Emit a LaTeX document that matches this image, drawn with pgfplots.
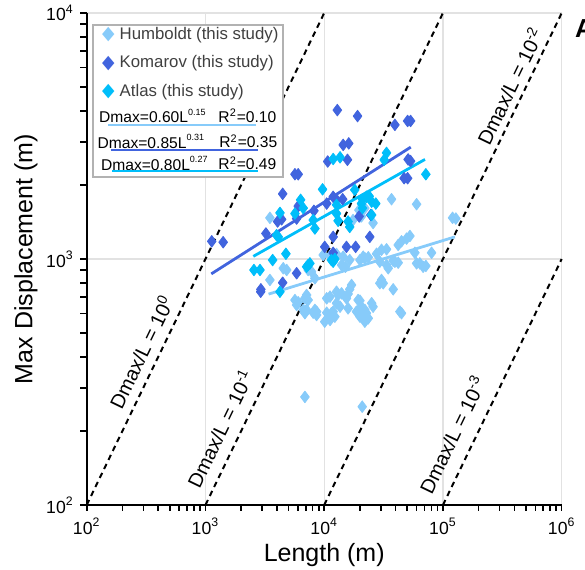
\documentclass[border=0pt]{standalone}
\usepackage{fontspec}
\setmainfont{Liberation Sans}
\newfontfamily\dejavu{DejaVu Sans}
\usepackage{pgfplots}
\pgfplotsset{compat=1.18}
\definecolor{hum}{RGB}{135,203,250}
\definecolor{kom}{RGB}{65,100,222}
\definecolor{atl}{RGB}{0,190,250}
\definecolor{gridc}{RGB}{226,226,226}
\newcommand{\sups}[1]{\raisebox{0.95ex}{\fontsize{4.5}{4.5}\selectfont #1}}
\newcommand{\lgfont}{\fontsize{8.4}{10}\selectfont}
\newcommand{\fitfont}{\fontsize{7.8}{9}\selectfont}

\begin{document}
\begin{tikzpicture}
\begin{axis}[
  scale only axis, width=237.5pt, height=246pt,
  xmode=log, ymode=log,
  xmin=100, xmax=1000000, ymin=100, ymax=10000,
  clip=false,
  axis line style={draw=none},
  xtick pos=left, ytick pos=left,
  tick align=outside,
  major tick length=3pt, minor tick length=3pt,
  every tick/.append style={black, line width=0.8pt},
  xtick={100,1000,10000,100000,1000000},
  xticklabels={10\textsuperscript{2},10\textsuperscript{3},10\textsuperscript{4},10\textsuperscript{5},10\textsuperscript{6}},
  minor xtick={200,300,400,500,600,700,800,900,2000,3000,4000,5000,6000,7000,8000,9000,
    20000,30000,40000,50000,60000,70000,80000,90000,200000,300000,400000,500000,600000,700000,800000,900000},
  ytick={100,1000,10000},
  yticklabels={10\textsuperscript{2},10\textsuperscript{3},10\textsuperscript{4}},
  minor ytick={200,300,400,500,600,700,800,900,2000,3000,4000,5000,6000,7000,8000,9000},
  xmajorgrids, ymajorgrids, major grid style={gridc, line width=0.7pt},
  ticklabel style={font=\fontsize{8.8}{10}\selectfont},
  xlabel={Length (m)}, ylabel={Max Displacement (m)},
  xlabel shift=-2.5pt, ylabel shift=-2.5pt,
  label style={font=\fontsize{12.5}{14}\selectfont},
  every axis plot/.append style={line join=round},
]
% Humboldt
\addplot[only marks, mark=diamond*, mark size=2.9pt, mark options={draw=hum, fill=hum}] coordinates {
(36900,1750) (60000,1670) (120500,1470) (128400,1460) (3490,1470) (22000,1610)
(20000,1490) (17500,1440) (25800,1400) (52700,1240) (49400,1210) (44800,1180)
(42000,1140) (30400,1090) (33500,1095) (27600,1050) (58000,1060) (80200,1060)
(63900,960) (71800,937) (38100,984) (42000,966) (9810,1038) (11200,1028)
(12700,1048) (14450,1022) (16400,990) (21300,1022) (23500,1016) (29400,975)
(7330,902) (7830,888) (8350,835) (4830,902) (30400,822) (29400,797)
(38100,753) (17000,784) (16400,753) (15900,721) (12700,736) (11200,703)
(10500,692) (5670,681) (6040,667) (25100,661) (25800,640) (20000,677)
(20600,640) (22000,621) (12700,661) (13600,640) (15400,692) (7110,621)
(8080,605) (8630,611) (10500,605) (11900,611) (12300,583) (18700,611)
(20600,583) (10100,556) (22700,602) (43400,611) (20000,990) (22000,1007)
(39400,975) (60000,960) (68100,930) (33500,945) (34600,917) (31400,797)
(13100,714) (14000,725) (15900,630) (19300,681) (44800,602) (19300,611)
(20000,583) (22000,556) (23500,574) (11500,602) (11200,565) (20900,251)
(4520,917) (5860,650) (6880,692) (7330,681) (6660,621) (6880,602)
(8350,621) (8630,592) (6880,275) (7110,714) (3490,822) (19600,1580)
(20600,1490) (14000,945) (15100,930)
};
% Komarov
\addplot[only marks, mark=diamond*, mark size=2.9pt, mark options={draw=kom, fill=kom}] coordinates {
(12900,4030) (19100,3810) (39400,3510) (50400,3640) (53400,3640) (14450,2910)
(16100,2950) (10700,2490) (15700,2530) (50900,2540) (53400,2500) (5670,2210)
(6040,2210) (47100,2130) (50400,2130) (4470,1840) (11900,1790) (12700,1740)
(14300,1750) (10500,1680) (6040,1640) (8190,1570) (4050,1420) (4380,1450)
(3230,1270) (1130,1180) (1410,1170) (19700,1490) (24700,1510) (11900,1230)
(24200,1230) (10100,1120) (15400,1120) (18400,1120) (11900,1060) (5860,875)
(4470,801) (2930,753) (2920,736) (5860,1460)
};
% Atlas
\addplot[only marks, mark=diamond*, mark size=2.9pt, mark options={draw=atl, fill=atl}] coordinates {
(13600,2590) (11900,2550) (33500,2700) (32000,2530) (71800,2210) (9690,1920)
(6330,1740) (5670,1530) (6660,1610) (4240,1540) (21000,1750) (23900,1800)
(25100,1710) (12700,1660) (8080,1440) (8350,1330) (3970,1250) (4100,1230)
(15900,1420) (16400,1350) (21000,1610) (4760,1050) (3680,990) (2560,902)
(2880,902) (7580,960) (7110,930) (12300,1000) (11900,975) (4240,736)
(18100,1910) (20600,1680) (27200,1680) (13100,1430) (12700,1530) (25100,1510)
(7330,945) (22700,1790) (11500,990)
};
% Dmax/L reference lines
\addplot[black, line width=1pt, dash pattern=on 2.8pt off 2.2pt] coordinates {(100,100) (10000,10000)};
\addplot[black, line width=1pt, dash pattern=on 2.8pt off 2.2pt] coordinates {(1000,100) (100000,10000)};
\addplot[black, line width=1pt, dash pattern=on 2.8pt off 2.2pt] coordinates {(10000,100) (1000000,10000)};
\addplot[black, line width=1pt, dash pattern=on 2.8pt off 2.2pt] coordinates {(100000,100) (1000000,1000)};
% power-law fits
\addplot[hum, line width=1.4pt] coordinates {(3400,720) (126000,1230)};
\addplot[kom, line width=1.4pt] coordinates {(1120,870) (53600,2850)};
\addplot[atl, line width=1.4pt] coordinates {(2530,1025) (70600,2540)};

% left and bottom axis lines, with outward ticks
\draw[black, line width=0.9pt] (rel axis cs:0,1) -- (rel axis cs:0,0) -- (rel axis cs:1,0);
\pgfplotsinvokeforeach{100,200,300,400,500,600,700,800,900,1000,2000,3000,4000,5000,6000,7000,8000,9000,
  10000,20000,30000,40000,50000,60000,70000,80000,90000,100000,200000,300000,400000,500000,600000,700000,800000,900000,1000000}{
  \draw[black, line width=0.8pt] (axis cs:#1,100) -- ++(0pt,-3pt);}
\pgfplotsinvokeforeach{100,200,300,400,500,600,700,800,900,1000,2000,3000,4000,5000,6000,7000,8000,9000,10000}{
  \draw[black, line width=0.9pt] (axis cs:100,#1) -- ++(-3.6pt,0pt);}

\node[rotate=64.2, font=\fontsize{10}{12}\selectfont] at (axis cs:286,419) {Dmax/L = 10\textsuperscript{0}};
\node[rotate=64.2, font=\fontsize{10}{12}\selectfont] at (axis cs:1324,205) {Dmax/L = 10\textsuperscript{-1}};
\node[rotate=64.2, font=\fontsize{10}{12}\selectfont] at (axis cs:365000,5050) {Dmax/L = 10\textsuperscript{-2}};
\node[rotate=64.2, font=\fontsize{10}{12}\selectfont] at (axis cs:119000,193) {Dmax/L = 10\textsuperscript{-3}};

% legend
\draw[gray!60, line width=1pt, fill=white] (rel axis cs:0.0139,0.9756) rectangle (rel axis cs:0.4139,0.6673);
\node[inner sep=0, text=hum, font=\dejavu\fontsize{9.5}{10}\selectfont] at (rel axis cs:0.0455,0.9553) {\scalebox{0.85}[1]{◆}};
\node[inner sep=0, text=kom, font=\dejavu\fontsize{9.5}{10}\selectfont] at (rel axis cs:0.0455,0.8978) {\scalebox{0.85}[1]{◆}};
\node[inner sep=0, text=atl, font=\dejavu\fontsize{9.5}{10}\selectfont] at (rel axis cs:0.0455,0.8400) {\scalebox{0.85}[1]{◆}};
\node[anchor=west, inner sep=0, text=black!75, font=\lgfont] at (rel axis cs:0.0686,0.9553) {Humboldt (this study)};
\node[anchor=west, inner sep=0, text=black!75, font=\lgfont] at (rel axis cs:0.0686,0.8978) {Komarov (this study)};
\node[anchor=west, inner sep=0, text=black!75, font=\lgfont] at (rel axis cs:0.0686,0.8400) {Atlas (this study)};
\node[anchor=west, inner sep=0, font=\fitfont] at (rel axis cs:0.0255,0.7907) {Dmax=0.60L\sups{0.15}};
\node[anchor=east, inner sep=0, font=\fitfont] at (rel axis cs:0.4000,0.7907) {R\textsuperscript{2}=0.10};
\node[anchor=west, inner sep=0, font=\fitfont] at (rel axis cs:0.0222,0.7392) {Dmax=0.85L\sups{0.31}};
\node[anchor=east, inner sep=0, font=\fitfont] at (rel axis cs:0.4020,0.7392) {R\textsuperscript{2}=0.35};
\node[anchor=west, inner sep=0, font=\fitfont] at (rel axis cs:0.0295,0.6945) {Dmax=0.80L\sups{0.27}};
\node[anchor=east, inner sep=0, font=\fitfont] at (rel axis cs:0.4000,0.6945) {R\textsuperscript{2}=0.49};
\draw[hum, line width=1.1pt] (rel axis cs:0.045,0.7717) -- (rel axis cs:0.356,0.7717);
\draw[kom, line width=1.1pt] (rel axis cs:0.0505,0.7209) -- (rel axis cs:0.3606,0.7209);
\draw[atl, line width=1.1pt] (rel axis cs:0.0533,0.6795) -- (rel axis cs:0.3606,0.6795);

\coordinate (o) at (rel axis cs:0,0);
\end{axis}
\path (o) ++(244pt,238pt) node[anchor=west, inner sep=0, font=\bfseries\fontsize{13}{13}\selectfont] {A};
\pgfresetboundingbox
\path[use as bounding box] (o) ++(-43.35pt,-32pt) rectangle ++(292.5pt,284.5pt);
\end{tikzpicture}
\end{document}
